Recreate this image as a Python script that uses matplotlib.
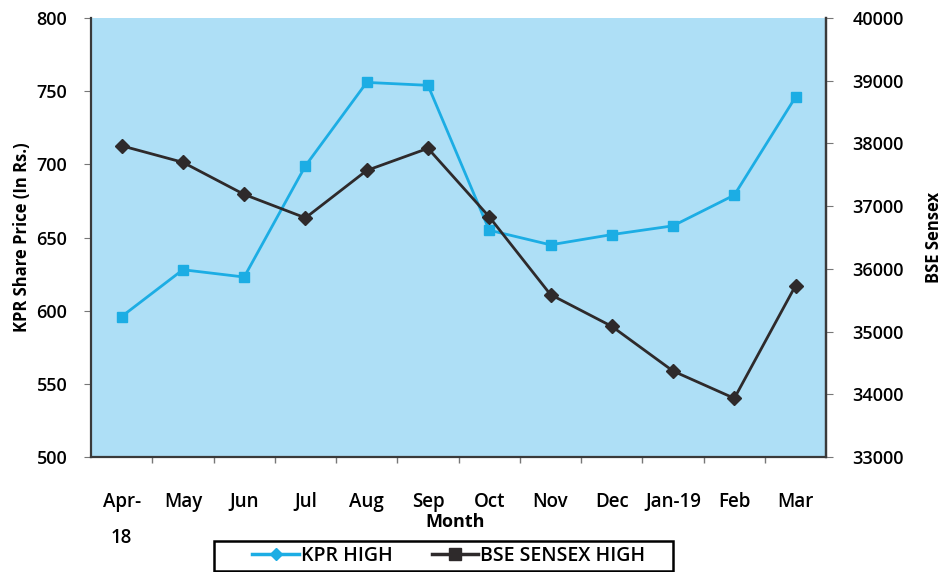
"""
KPR share price vs BSE Sensex - monthly highs, Apr-18 to Mar-19
"""
import matplotlib.pyplot as plt
import matplotlib.patches as patches
from matplotlib.lines import Line2D
import numpy as np

plt.rcParams['font.family'] = ['Open Sans', 'DejaVu Sans']

# ============= DATA =============
months = ['Apr-\n18', 'May', 'Jun', 'Jul', 'Aug', 'Sep', 'Oct', 'Nov', 'Dec',
          'Jan-19', 'Feb', 'Mar']
kpr_high = [596, 628, 623, 699, 756, 754, 655, 645, 652, 658, 679, 746]
bse_high = [37963, 37699, 37187, 36813, 37569, 37922, 36830, 35590, 35084,
            34371, 33936, 35734]

KPR_COLOR = '#1CADE4'
BSE_COLOR = '#2E2A2B'
BG_COLOR = '#AEDFF6'
AXIS_COLOR = '#3A3A3A'
W, H = 945, 572

# ============= PLOT =============
fig = plt.figure(figsize=(W / 100, H / 100), dpi=100)
ax = fig.add_axes([0.0963, 0.201, 0.778, 0.7675])
ax2 = ax.twinx()

x = np.arange(len(months))
ax.set_facecolor(BG_COLOR)
ax.plot(x, kpr_high, color=KPR_COLOR, linewidth=2, marker='s',
        markersize=6.5, zorder=3)
ax2.plot(x, bse_high, color=BSE_COLOR, linewidth=2, marker='D',
         markersize=7, zorder=3)

ax.set_xlim(-0.5, len(months) - 0.5)
ax.set_ylim(500, 800)
ax.set_yticks(range(500, 801, 50))
ax2.set_ylim(33000, 40000)
ax2.set_yticks(range(33000, 40001, 1000))

# category labels centered, tick marks on the boundaries
ax.set_xticks(x)
ax.set_xticklabels(months)
ax.set_xticks(np.arange(0.5, len(months) - 0.5, 1), minor=True)
ax.tick_params(axis='x', which='major', length=0, pad=25, labelsize=13.5)
ax.tick_params(axis='x', which='minor', length=4, color='#777777', width=1)
for lbl in ax.get_xticklabels():
    lbl.set_linespacing(2.1)
    lbl.set_fontweight(600)

ax.tick_params(axis='y', length=5, color='#777777', labelsize=13, pad=12)
ax2.tick_params(axis='y', length=5, color='#777777', labelsize=13, pad=14)
for lbl in ax.get_yticklabels() + ax2.get_yticklabels():
    lbl.set_fontweight(600)

for a in (ax, ax2):
    a.spines['top'].set_visible(False)
    for side in ('left', 'right', 'bottom'):
        a.spines[side].set_color(AXIS_COLOR)
        a.spines[side].set_linewidth(1.6)
ax2.spines['left'].set_visible(False)
ax2.spines['bottom'].set_visible(False)

ax.set_ylabel('KPR Share Price (In Rs.)', fontsize=12, fontweight='bold',
              labelpad=4)
ax2.set_ylabel('BSE Sensex', fontsize=12, fontweight='bold', labelpad=15)
fig.text(0.482, 0.088, 'Month', fontsize=13, fontweight='bold',
         ha='center', va='center')

# legend markers are swapped in the original chart
handles = [
    Line2D([], [], color=KPR_COLOR, linewidth=2.5, marker='D', markersize=6),
    Line2D([], [], color=BSE_COLOR, linewidth=2.5, marker='s', markersize=9),
]
leg = fig.legend(handles, ['KPR HIGH', 'BSE SENSEX HIGH'], loc='center',
                 bbox_to_anchor=(0.475, 0.028), ncol=2, frameon=False,
                 prop={'size': 14, 'weight': 600},
                 handlelength=2.4, columnspacing=2.0, handletextpad=0.1)

# legend box, wider than its contents as in the original
fig.patches.append(patches.Rectangle((214 / W, 1 / H), 459 / W, 30 / H,
                                     transform=fig.transFigure, fill=False,
                                     edgecolor='black', linewidth=1.8))

fig.savefig('out.png', dpi=100)
